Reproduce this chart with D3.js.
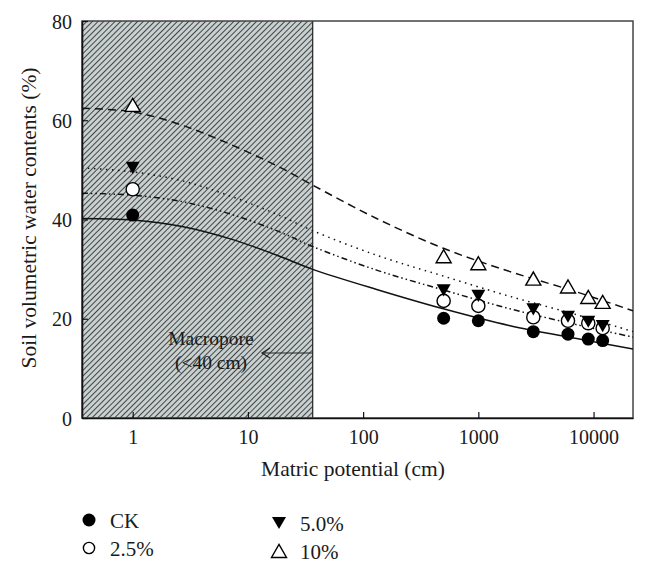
<!DOCTYPE html>
<html><head><meta charset="utf-8">
<script src="https://cdn.jsdelivr.net/npm/d3@7"></script>
<style>
html,body{margin:0;padding:0;background:#fff;}
svg{display:block;}
text{font-family:"Liberation Serif","DejaVu Serif",serif;fill:#1a1a1a;}
</style></head>
<body>
<svg id="chart" width="647" height="571"></svg>
<script>
// ---- data ----
const pointX = [1, 500, 1000, 3000, 6000, 9000, 12000];
const ckPoints   = [40.9, 20.1, 19.6, 17.4, 16.9, 15.9, 15.6];
const p25Points  = [46.1, 23.6, 22.6, 20.3, 19.6, 19.1, 18.1];
const p50Points  = [50.4, 25.7, 24.6, 21.9, 20.4, 19.4, 18.5];
const p10Points  = [63.1, 32.6, 31.2, 28.1, 26.5, 24.4, 23.4];

const curveX   = [0.363, 1, 2.68, 7.28, 19.8, 36, 131, 497, 1884, 7145, 22000];
const ckCurve  = [40.2, 39.9, 38.6, 36.0, 32.4, 30.0, 25.9, 22.0, 18.6, 16.0, 13.9];
const p25Curve = [45.3, 44.9, 43.6, 41.0, 37.3, 34.6, 29.8, 25.8, 22.0, 18.8, 16.3];
const p50Curve = [50.4, 49.6, 47.8, 44.6, 40.6, 37.8, 32.8, 28.6, 24.5, 20.8, 17.4];
const p10Curve = [62.4, 61.7, 59.0, 55.0, 50.3, 47.0, 40.2, 34.2, 29.5, 25.4, 21.6];

const xTicks = [1, 10, 100, 1000, 10000];
const yTicks = [0, 20, 40, 60, 80];
const macroporeLimit = 36.5;
const xDomain = [0.363, 22000];
const yDomain = [0, 80];
const seriesNames = ["CK", "2.5%", "5.0%", "10%"];

// ---- layout ----
const svg = d3.select("#chart");
const L = 82, R = 633, T = 21, B = 418;
const x = d3.scaleLog().domain(xDomain).range([L, R]);
const y = d3.scaleLinear().domain(yDomain).range([B, T]);

const defs = svg.append("defs");
const pat = defs.append("pattern").attr("id","hatch")
  .attr("patternUnits","userSpaceOnUse").attr("width",4).attr("height",4)
  .attr("patternTransform","rotate(45)");
pat.append("rect").attr("width",4).attr("height",4).attr("fill","#c8d0d0");
pat.append("line").attr("x1",0.5).attr("y1",0).attr("x2",0.5).attr("y2",4)
  .attr("stroke","#2a2a2a").attr("stroke-width",0.85);
defs.append("clipPath").attr("id","plotclip").append("rect")
  .attr("x",L).attr("y",T).attr("width",R-L).attr("height",B-T);

// hatched macropore region
svg.append("rect").attr("x", x(xDomain[0])).attr("y", y(80))
  .attr("width", x(macroporeLimit) - x(xDomain[0])).attr("height", y(0) - y(80))
  .attr("fill","url(#hatch)");
svg.append("line").attr("x1", x(macroporeLimit)).attr("x2", x(macroporeLimit))
  .attr("y1", y(80)).attr("y2", y(0)).attr("stroke","#222").attr("stroke-width",1.2);

// frame
svg.append("rect").attr("x",L).attr("y",T).attr("width",R-L).attr("height",B-T)
  .attr("fill","none").attr("stroke","#444").attr("stroke-width",1.5);

// axes
const xAxis = d3.axisBottom(x).tickValues(xTicks).tickFormat(d3.format("d"))
  .tickSizeInner(-6).tickSizeOuter(0).tickPadding(12);
const gx = svg.append("g").attr("transform",`translate(0,${B})`).call(xAxis);
const yAxis = d3.axisLeft(y).tickValues(yTicks).tickSizeInner(-6).tickSizeOuter(0).tickPadding(10);
const gy = svg.append("g").attr("transform",`translate(${L},0)`).call(yAxis);
[gx, gy].forEach(g => {
  g.select(".domain").attr("stroke","#111").attr("stroke-width",1.6);
  g.selectAll(".tick line").attr("stroke","#111").attr("stroke-width",1.2);
  g.selectAll(".tick text").style("font-family","'Liberation Serif',serif")
    .style("font-size","20px").attr("fill","#1a1a1a");
});
gy.selectAll(".tick text").attr("dy","0.35em");

// titles
svg.append("text").attr("x", 353).attr("y", 476).attr("text-anchor","middle")
  .style("font-size","21.5px").text("Matric potential (cm)");
svg.append("text").attr("transform","translate(36,218) rotate(-90)")
  .attr("text-anchor","middle").style("font-size","21.5px")
  .text("Soil volumetric water contents (%)");

// macropore label + arrow
svg.append("text").attr("x",211).attr("y",345).attr("text-anchor","middle")
  .style("font-size","19.5px").text("Macropore");
svg.append("text").attr("x",211).attr("y",369).attr("text-anchor","middle")
  .style("font-size","19.5px").text("(<40 cm)");
const ay = 353;
const ax0 = x(macroporeLimit), ax1 = 262;
svg.append("line").attr("x1",ax0).attr("x2",ax1).attr("y1",ay).attr("y2",ay)
  .attr("stroke","#222").attr("stroke-width",1.2);
svg.append("path").attr("d",`M${ax1+8},${ay-5}L${ax1},${ay}L${ax1+8},${ay+5}`)
  .attr("fill","none").attr("stroke","#222").attr("stroke-width",1.2);

// curves
const line = d3.line().x(d => x(d[0])).y(d => y(d[1])).curve(d3.curveCatmullRom.alpha(0.5));
const curves = [
  {v: ckCurve,  dash: null},
  {v: p25Curve, dash: "6,3,1.5,3,1.5,3"},
  {v: p50Curve, dash: "1.5,4.5"},
  {v: p10Curve, dash: "8,5"}
];
const gc = svg.append("g").attr("clip-path","url(#plotclip)");
curves.forEach(c => {
  gc.append("path").datum(curveX.map((xx,i) => [xx, c.v[i]]))
    .attr("d", line).attr("fill","none").attr("stroke","#111")
    .attr("stroke-width",1.5).attr("stroke-dasharray", c.dash);
});

// markers
const tri = (cx, cy, s, down) => {
  const h = s * 0.87;
  return down
    ? `M${cx - s/2},${cy - h/2}L${cx + s/2},${cy - h/2}L${cx},${cy + h/2}Z`
    : `M${cx - s/2},${cy + h/2}L${cx + s/2},${cy + h/2}L${cx},${cy - h/2}Z`;
};
const gm = svg.append("g");
function drawMarker(g, type, cx, cy, scale) {
  if (type === 0) g.append("circle").attr("cx",cx).attr("cy",cy).attr("r",6.5*scale).attr("fill","#000");
  else if (type === 1) g.append("circle").attr("cx",cx).attr("cy",cy).attr("r",6.6*scale)
      .attr("fill","#fff").attr("stroke","#000").attr("stroke-width",1.4);
  else if (type === 2) g.append("path").attr("d",tri(cx,cy,14*scale,true)).attr("fill","#000");
  else g.append("path").attr("d",tri(cx,cy,15*scale,false))
      .attr("fill","#fff").attr("stroke","#000").attr("stroke-width",1.4);
}
[ckPoints, p25Points, p50Points, p10Points].forEach((vals, si) => {
  vals.forEach((v, i) => drawMarker(gm, si, x(pointX[i]), y(v), 1));
});

// legend
const legendPos = [[89,520],[89,548],[279,523],[279,551]];
seriesNames.forEach((name, i) => {
  const [lx, ly] = legendPos[i];
  drawMarker(svg, i, lx, ly, i === 1 ? 0.85 : 1);
  svg.append("text").attr("x", lx + 21).attr("y", ly + 8)
    .style("font-size","21px").text(name);
});
</script>
</body></html>
